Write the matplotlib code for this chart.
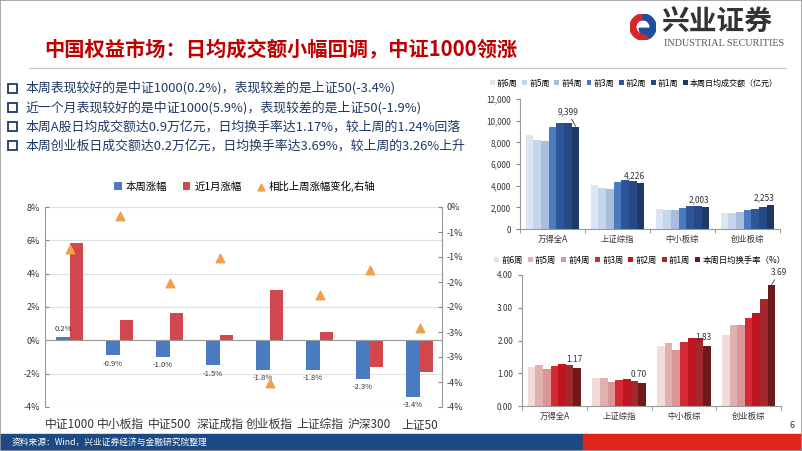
import numpy as np
import matplotlib
matplotlib.use('Agg')
import matplotlib.pyplot as plt
from matplotlib.patches import Rectangle, Wedge

plt.rcParams['font.family'] = ['Noto Sans CJK SC', 'DejaVu Sans']
plt.rcParams['axes.unicode_minus'] = False

# 数据
idx_names = ['中证1000', '中小板指', '中证500', '深证成指', '创业板指', '上证综指', '沪深300', '上证50']
week_chg = [0.2, -0.9, -1.0, -1.5, -1.8, -1.8, -2.3, -3.4]
month_chg = [5.85, 1.2, 1.65, 0.35, 3.05, 0.5, -1.6, -1.9]
diff_chg = [-0.84, -0.17, -1.51, -1.01, -3.52, -1.75, -1.26, -2.42]

board_names = ['万得全A', '上证综指', '中小板综', '创业板综']
week_labels = ['前6周', '前5周', '前4周', '前3周', '前2周', '前1周']
amount = [
    [8700, 8200, 8150, 9400, 9800, 9750, 9399],
    [4050, 3800, 3700, 4350, 4480, 4420, 4226],
    [1870, 1720, 1720, 1950, 2100, 2080, 2003],
    [1500, 1450, 1560, 1760, 1880, 2050, 2253],
]
turnover = [
    [1.20, 1.25, 1.12, 1.23, 1.27, 1.24, 1.17],
    [0.84, 0.86, 0.74, 0.80, 0.82, 0.77, 0.70],
    [1.82, 1.92, 1.72, 1.96, 2.08, 2.08, 1.83],
    [2.18, 2.47, 2.48, 2.68, 2.83, 3.26, 3.69],
]
bullets = [
    '本周表现较好的是中证1000(0.2%)，表现较差的是上证50(-3.4%)',
    '近一个月表现较好的是中证1000(5.9%)，表现较差的是上证50(-1.9%)',
    '本周A股日均成交额达0.9万亿元，日均换手率达1.17%，较上周的1.24%回落',
    '本周创业板日成交额达0.2万亿元，日均换手率达3.69%，较上周的3.26%上升',
]

W, H = 802, 451
fig = plt.figure(figsize=(W / 100, H / 100), dpi=100)


def box(x0, y0, x1, y1):
    return [x0 / W, 1 - y1 / H, (x1 - x0) / W, (y1 - y0) / H]


def fx(x):
    return x / W


def fy(y):
    return 1 - y / H


# 页面框与标题
fig.patches.append(Rectangle((0, 0), 1, 1, transform=fig.transFigure, fill=False,
                             edgecolor='#9a9a9a', lw=1.2))
fig.text(fx(44), fy(50), '中国权益市场：日均成交额小幅回调，中证1000领涨', color='#C00000',
         fontsize=14.6, fontweight='bold', va='center', ha='left')
fig.add_artist(plt.Line2D([fx(30), fx(785)], [fy(68), fy(68)], color='#c8c8c8', lw=1))

# logo
lax = fig.add_axes(box(630, 14, 656, 40))
lax.set_xlim(-1, 1)
lax.set_ylim(-1, 1)
lax.set_aspect('equal')
lax.axis('off')
lax.add_patch(Wedge((0, 0), 1, 90, 300, width=0.45, color='#D7262B'))
lax.add_patch(Wedge((0, 0), 1, 300, 450, width=0.45, color='#1F4E9C'))
lax.add_patch(Wedge((0.15, -0.1), 0.45, 180, 360, color='#1F4E9C'))
fig.text(fx(661), fy(23), '兴业证券', fontsize=20, fontweight='bold', color='#333333',
         va='center', ha='left')
fig.text(fx(664), fy(44), 'INDUSTRIAL SECURITIES', fontsize=7.3, color='#555555',
         va='center', ha='left', family='Liberation Serif')

# 要点
for i, t in enumerate(bullets):
    y = 88 + i * 19.3
    fig.patches.append(Rectangle((fx(8), fy(y + 4.5)), 9 / W, 9 / H, transform=fig.transFigure,
                                 fill=False, edgecolor='#1F3864', lw=1.3))
    fig.text(fx(25), fy(y), t, fontsize=9.3, color='#1F3864', va='center', ha='left')

# 左图
ax = fig.add_axes(box(45, 207, 442, 407))
x = np.arange(len(idx_names))
bw = 0.27
ax.bar(x - bw / 2, week_chg, bw, color='#4A7BC0', label='本周涨幅')
ax.bar(x + bw / 2, month_chg, bw, color='#D2474D', label='近1月涨幅')
ax.set_ylim(-4, 8)
ax.set_yticks(np.arange(-4, 9, 2))
ax.set_yticklabels([f'{v}%' for v in range(-4, 9, 2)], fontsize=6.5, color='#333333')
ax.set_xlim(-0.5, 7.45)
ax.set_xticks(x)
ax.set_xticklabels(idx_names, fontsize=8.5, color='#333333')
ax.tick_params(axis='x', length=0, pad=8)
ax.tick_params(axis='y', length=3, color='#888888', direction='in')
ax.grid(axis='y', color='#e0e0e0', lw=0.8)
ax.set_axisbelow(True)
for s in ['top', 'bottom', 'right']:
    ax.spines[s].set_visible(False)
ax.spines['left'].set_color('#999999')
ax.axhline(0, color='#999999', lw=0.8)
for xi, v in zip(x, week_chg):
    if v >= 0:
        ax.text(xi - bw / 2, v + 0.25, f'{v:.1f}%', fontsize=5.5, ha='center', va='bottom', color='#333333')
    else:
        ax.text(xi - bw / 2, v - 0.25, f'{v:.1f}%', fontsize=5.5, ha='center', va='top', color='#333333')

ax2 = ax.twinx()
ax2.scatter(x, diff_chg, marker='^', s=38, color='#F0A04B', label='相比上周涨幅变化,右轴', zorder=5)
ax2.set_ylim(-4, 0)
ax2.set_yticks(np.arange(-4, 0.01, 0.5))
ax2.set_yticklabels([f'{v:.0f}%' if abs(v) > 0 else '0%' for v in
                     [-4, -4, -3, -3, -2, -2, -1, -1, 0]], fontsize=6.5, color='#333333')
ax2.tick_params(axis='y', length=3, color='#888888', direction='in')
for s in ['top', 'bottom', 'left']:
    ax2.spines[s].set_visible(False)
ax2.spines['right'].set_color('#999999')

h1, l1 = ax.get_legend_handles_labels()
h2, l2 = ax2.get_legend_handles_labels()
fig.legend(h1 + h2, l1 + l2, loc='center', bbox_to_anchor=(fx(245), fy(186)), ncol=3,
           frameon=False, fontsize=7.5, handlelength=0.7, handleheight=0.7, handletextpad=0.4,
           columnspacing=1.5, markerscale=0.8)

# 右上图：日均成交额
blues = ['#DCE6F2', '#C5D5EA', '#A7BEDC', '#4A7AC0', '#2E5597', '#244A86', '#1F3864']
reds = ['#F2DCDB', '#E3B0B0', '#D99694', '#D42A35', '#C0141E', '#A3272D', '#6E1A1A']
labels7 = week_labels + ['本周日均成交额（亿元）']
labels7b = week_labels + ['本周日均换手率（%）']


def group_bars(axr, data, colors, labels):
    xb = np.arange(len(board_names))
    w = 0.118
    arr = np.array(data)
    for k in range(7):
        axr.bar(xb + (k - 3) * w, arr[:, k], w, color=colors[k], label=labels[k])
    axr.set_xlim(-0.5, 3.5)
    axr.set_xticks(xb)
    axr.set_xticklabels(board_names, fontsize=6, color='#333333')
    axr.set_xticks(np.arange(-0.5, 3.6, 1), minor=True)
    axr.tick_params(axis='x', which='major', length=0, pad=4)
    axr.tick_params(axis='x', which='minor', length=3, color='#888888')
    axr.tick_params(axis='y', length=3, color='#888888', labelsize=5.8, labelcolor='#333333')
    for s in ['top', 'right']:
        axr.spines[s].set_visible(False)
    axr.spines['left'].set_color('#999999')
    axr.spines['bottom'].set_color('#999999')
    return xb, w


ax3 = fig.add_axes(box(520, 99, 780, 229))
xb, w = group_bars(ax3, amount, blues, labels7)
ax3.set_ylim(0, 12000)
ax3.set_yticks(np.arange(0, 12001, 2000))
ax3.set_yticklabels([f'{v:,}' for v in range(0, 12001, 2000)])
for i in range(4):
    v = amount[i][6]
    xp = xb[i] + 3 * w
    if i == 0:
        ax3.annotate(f'{v:,}', xy=(xp, v + 80), xytext=(xp - 0.12, v + 1000), fontsize=6,
                     ha='center', va='bottom', color='#333333',
                     arrowprops=dict(arrowstyle='-', color='#333333', lw=0.6, shrinkA=0, shrinkB=0))
    else:
        ax3.text(xp - 0.1, v + 250, f'{v:,}', fontsize=6, ha='center', va='bottom', color='#333333')
fig.legend(*ax3.get_legend_handles_labels(), loc='center', bbox_to_anchor=(fx(634), fy(83)),
           ncol=7, frameon=False, fontsize=5.8, handlelength=0.6, handleheight=0.6,
           handletextpad=0.25, columnspacing=0.6)

# 右下图：日均换手率
ax4 = fig.add_axes(box(522, 275, 781, 406))
xb, w = group_bars(ax4, turnover, reds, labels7b)
ax4.set_ylim(0, 4)
ax4.set_yticks(np.arange(0, 4.01, 1))
ax4.set_yticklabels([f'{v:.2f}' for v in np.arange(0, 4.01, 1)])
for i in range(4):
    v = turnover[i][6]
    xp = xb[i] + 3 * w
    if i == 3:
        ax4.annotate(f'{v:.2f}', xy=(xp, v + 0.02), xytext=(xp + 0.12, v + 0.25), fontsize=6,
                     ha='center', va='bottom', color='#333333',
                     arrowprops=dict(arrowstyle='-', color='#333333', lw=0.6, shrinkA=0, shrinkB=0))
    else:
        ax4.text(xp - 0.05, v + 0.12, f'{v:.2f}', fontsize=6, ha='center', va='bottom', color='#333333')
fig.legend(*ax4.get_legend_handles_labels(), loc='center', bbox_to_anchor=(fx(640), fy(260)),
           ncol=7, frameon=False, fontsize=6.0, handlelength=0.6, handleheight=0.6,
           handletextpad=0.25, columnspacing=0.6)

# 页脚
fig.patches.append(Rectangle((0, 0), fx(583), 17 / H, transform=fig.transFigure,
                             color='#1B4A84', zorder=0))
fig.patches.append(Rectangle((fx(583), 0), 1 - fx(583), 17 / H, transform=fig.transFigure,
                             color='#E0261B', zorder=0))
fig.text(fx(12), fy(442.5), '资料来源：Wind，兴业证券经济与金融研究院整理', fontsize=6.3,
         color='white', va='center', ha='left')
fig.text(fx(794), fy(425), '6', fontsize=6.5, color='#333333', va='center', ha='right')

fig.savefig('out.png', dpi=100)
